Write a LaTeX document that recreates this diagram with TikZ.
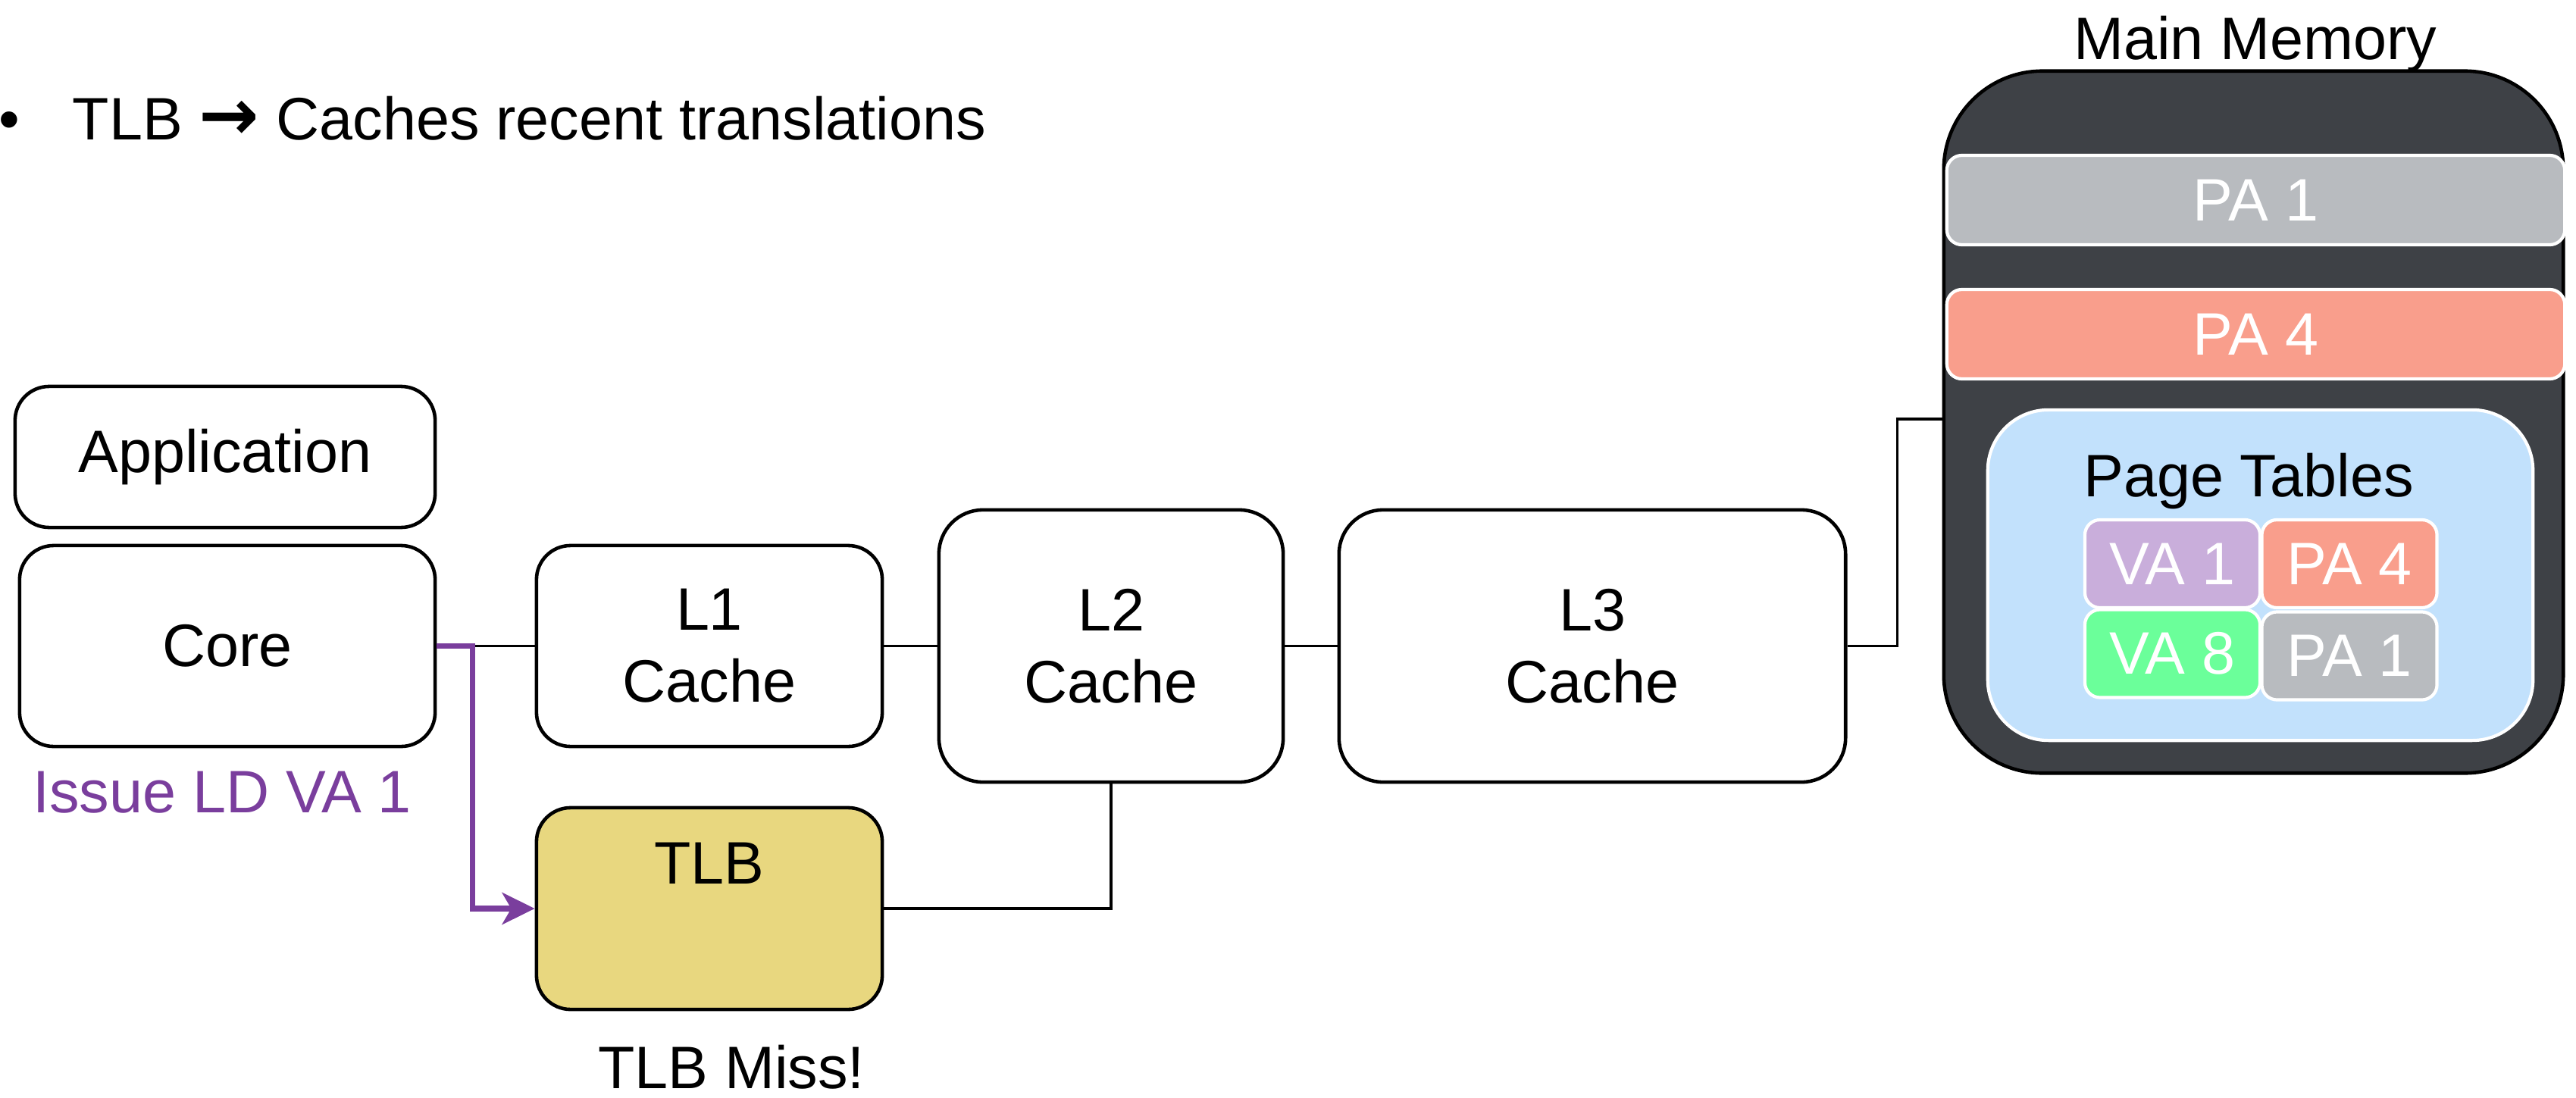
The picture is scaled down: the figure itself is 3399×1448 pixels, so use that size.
\documentclass[tikz,border=0pt]{standalone}
\usepackage{fontspec}
\setmainfont{Liberation Sans}
\newfontfamily\dejavu{DejaVu Sans}
\usetikzlibrary{arrows.meta}
\definecolor{memfill}{HTML}{3E4146}
\definecolor{pagrey}{HTML}{B8BBBF}
\definecolor{salmon}{HTML}{F99E8C}
\definecolor{ptblue}{HTML}{C2E1FC}
\definecolor{lilac}{HTML}{C9AEDB}
\definecolor{mint}{HTML}{6BFF9A}
\definecolor{tlbyellow}{HTML}{E8D77F}
\definecolor{purp}{HTML}{7A3E9D}
\begin{document}
\begin{tikzpicture}[x=0.01cm,y=-0.01cm,
  every node/.style={font=\fontsize{22.5}{27}\selectfont, inner sep=0pt},
  box/.style={draw, line width=1.3pt, fill=white, rounded corners=0.45cm, align=center},
  bigbox/.style={box, rounded corners=0.58cm},
  bar/.style={draw=white, line width=1.2pt, rounded corners=0.2cm, text=white},
  cell/.style={bar, minimum width=2.31cm, minimum height=1.16cm},
  conn/.style={line width=0.9pt},
  purpline/.style={draw=purp, line width=2pt}]
\useasboundingbox (0,0) rectangle (3399,1448);

% bullet text
\node[anchor=base] (bul) at (12,184) {•};
\node[anchor=base west] (btxt) at (95,184) {TLB {\fontsize{27}{27}\dejavu\bfseries →} Caches recent translations};

% left boxes
\node[box, minimum width=5.54cm, minimum height=1.86cm] (app) at (297,603) {Application};
\node[box, minimum width=5.48cm, minimum height=2.65cm] (core) at (300,852.5) {Core};
\node[box, minimum width=4.56cm, minimum height=2.65cm] (l1) at (936,852.5) {L1\\Cache};
\node[bigbox, minimum width=4.54cm, minimum height=3.59cm] (l2) at (1466,852.5) {L2\\Cache};
\node[bigbox, minimum width=6.68cm, minimum height=3.59cm] (l3) at (2101,852.5) {L3\\Cache};
\node[box, fill=tlbyellow, minimum width=4.56cm, minimum height=2.66cm] (tlb) at (936,1199) {};
\node[anchor=base] (tlbt) at (936,1166) {TLB};

\node[anchor=base, text=purp] (issue) at (293,1072) {Issue LD VA 1};
\node[anchor=base] (miss) at (965,1436) {TLB Miss!};

% main memory
\node[draw, line width=1.3pt, fill=memfill, rounded corners=1.3cm, minimum width=8.17cm, minimum height=9.26cm] (mem) at (2973.5,557) {};
\node[anchor=base] (memt) at (2976,78) {Main Memory};
\node[bar, fill=pagrey, minimum width=8.15cm, minimum height=1.18cm] (pa1) at (2976.5,264) {PA 1};
\node[bar, fill=salmon, minimum width=8.15cm, minimum height=1.18cm] (pa4) at (2976.5,441) {PA 4};
\node[draw=white, line width=1.2pt, fill=ptblue, rounded corners=0.8cm, minimum width=7.19cm, minimum height=4.36cm] (pt) at (2982.5,759) {};
\node[anchor=base] (ptt) at (2967,655) {Page Tables};
\node[cell, fill=lilac] (va1) at (2866.5,744) {VA 1};
\node[cell, fill=salmon] (pa4s) at (3100,744) {PA 4};
\node[cell, fill=mint] (va8) at (2866.5,862.5) {VA 8};
\node[cell, fill=pagrey] (pa1s) at (3100,865.5) {PA 1};

% connectors
\coordinate (memin) at (2565,553);
\draw[conn] (core.east) -- (l1.west);
\draw[conn] (l1.east) -- (l2.west);
\draw[conn] (l2.east) -- (l3.west);
\draw[conn] (l3.east) -- ++(66,0) |- (memin);
\draw[conn] (l2.south) |- (tlb.east);
\draw[purpline, -{Stealth[length=0.43cm,width=0.42cm,inset=0.12cm]}] (core.east) -- ++(47,0) |- (tlb.west);
\end{tikzpicture}
\end{document}
